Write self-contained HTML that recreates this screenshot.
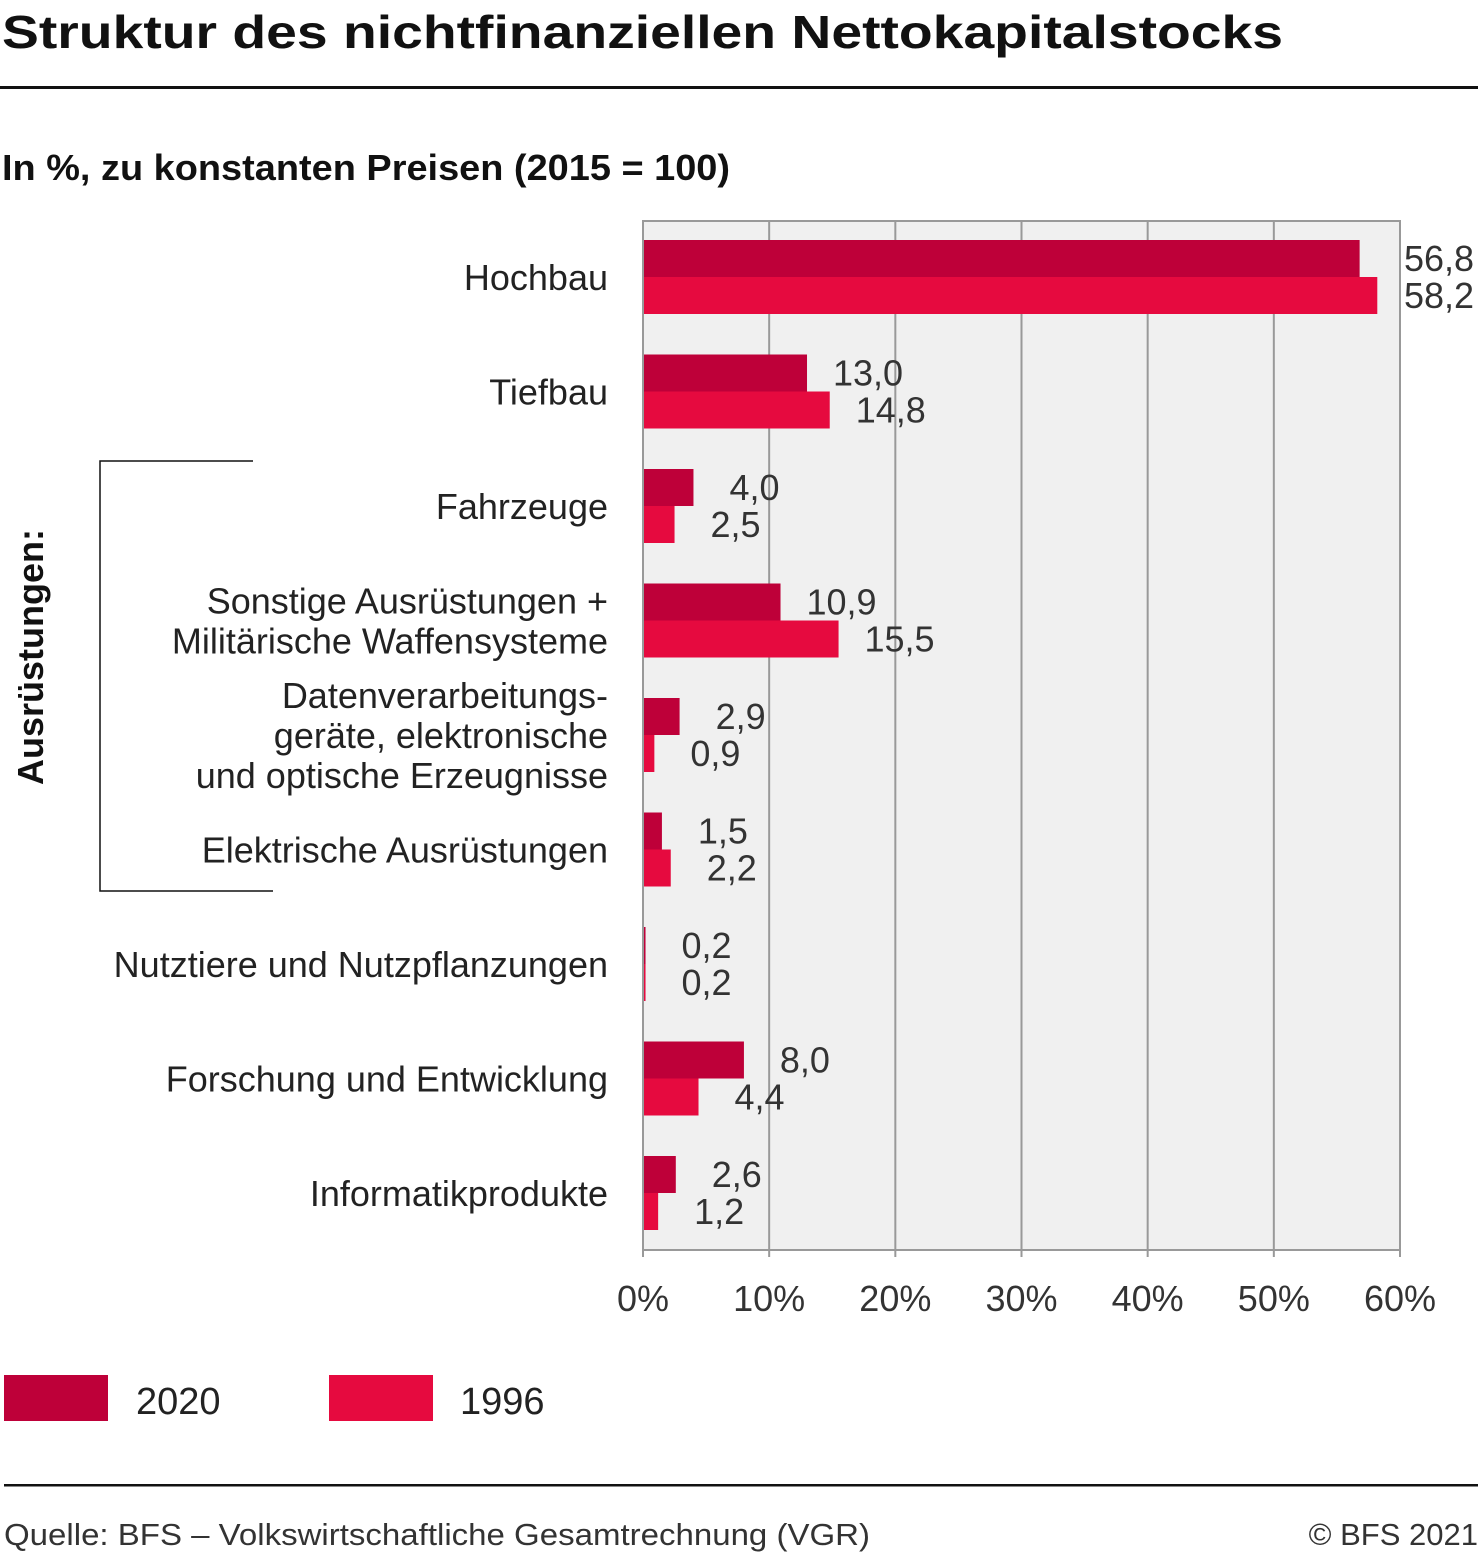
<!DOCTYPE html>
<html><head><meta charset="utf-8">
<style>
html,body{margin:0;padding:0;background:#fff;}
svg{display:block;font-family:"Liberation Sans",sans-serif;}
</style></head>
<body>
<svg id="chart" width="1481" height="1554" viewBox="0 0 1481 1554">
<text x="2" y="48" font-size="46" font-weight="bold" fill="#111" textLength="1281" lengthAdjust="spacingAndGlyphs">Struktur des nichtfinanziellen Nettokapitalstocks</text>
<rect x="0" y="86" width="1478" height="3" fill="#111"/>
<text x="2" y="180" font-size="36" font-weight="bold" fill="#111" textLength="728" lengthAdjust="spacingAndGlyphs">In %, zu konstanten Preisen (2015 = 100)</text>
<rect x="643" y="220" width="757" height="1030" fill="#f0f0f0"/>
<g id="grid"></g>
<g id="bars"></g>
<g id="labels"></g>
<path d="M253 461 H100 V891 H273" fill="none" stroke="#111" stroke-width="1.5"/>
<text transform="translate(43,657) rotate(-90)" text-anchor="middle" font-size="36" font-weight="bold" fill="#111">Ausrüstungen:</text>
<rect x="4" y="1375" width="104" height="46" fill="#be0039"/>
<text x="136" y="1414" font-size="38" fill="#222">2020</text>
<rect x="329" y="1375" width="104" height="46" fill="#e60a3f"/>
<text x="460" y="1414" font-size="38" fill="#222">1996</text>
<rect x="4" y="1484" width="1474" height="2.5" fill="#111"/>
<text x="4" y="1545" font-size="31" fill="#333" textLength="866" lengthAdjust="spacingAndGlyphs">Quelle: BFS – Volkswirtschaftliche Gesamtrechnung (VGR)</text>
<text x="1478" y="1545" font-size="31" fill="#333" text-anchor="end">© BFS 2021</text>
</svg>
<script>
const categories = [["Hochbau"],["Tiefbau"],["Fahrzeuge"],["Sonstige Ausrüstungen +","Militärische Waffensysteme"],["Datenverarbeitungs-","geräte, elektronische","und optische Erzeugnisse"],["Elektrische Ausrüstungen"],["Nutztiere und Nutzpflanzungen"],["Forschung und Entwicklung"],["Informatikprodukte"]];
const values2020 = [56.8,13.0,4.0,10.9,2.9,1.5,0.2,8.0,2.6];
const values1996 = [58.2,14.8,2.5,15.5,0.9,2.2,0.2,4.4,1.2];
const ticks = [0,10,20,30,40,50,60];
const tickLabels = ["0%","10%","20%","30%","40%","50%","60%"];
{
const NS="http://www.w3.org/2000/svg";
const x0=643, x1=1400, xMax=60, yTop=240, band=114.5, bh=37;
const xs=v=>x0+(v/xMax)*(x1-x0);
const fmt=v=>v.toFixed(1).replace('.',',');
function mk(tag,attrs,parent){const e=document.createElementNS(NS,tag);for(const k in attrs)e.setAttribute(k,attrs[k]);parent.appendChild(e);return e;}
const gGrid=document.getElementById('grid'),gBars=document.getElementById('bars'),gLabels=document.getElementById('labels');

ticks.forEach((t,i)=>{
  const x=xs(t);
  if(t>0){const l=mk('line',{x1:x,x2:x,y1:220,y2:1250,stroke:'#999','stroke-width':2},gGrid);
  
  }
  const tk=mk('line',{x1:x,x2:x,y1:1250,y2:1257,stroke:'#999','stroke-width':2},gGrid);
  
  
  const tx=mk('text',{x:x,y:1311,'font-size':36,'text-anchor':'middle',fill:'#333'},gGrid);
  tx.textContent=tickLabels[i];
  
  
});
const topBorder=mk('line',{x1:x0,x2:x1,y1:221,y2:221,stroke:'#999','stroke-width':2},gGrid);


const xAxis=mk('line',{x1:x0,x2:x1,y1:1250,y2:1250,stroke:'#999','stroke-width':2},gGrid);



categories.forEach((c,i)=>{
  const y=yTop+i*band;
  [[values2020,'#be0039',0,'2020'],[values1996,'#e60a3f',bh,'1996']].forEach(([arr,col,off,yr])=>{
    const v=arr[i];
    const r=mk('rect',{x:x0,y:y+off,width:Math.max(xs(v)-x0,2),height:bh,fill:col},gBars);
    
    
    const lx=v>50?1439:xs(v)+61;
    const t=mk('text',{x:lx,y:y+off+31,'font-size':36,'text-anchor':'middle',fill:'#333'},gLabels);
    t.textContent=fmt(v);
    
    
  });
  const cy=y+bh;
  const n=c.length, lh=40;
  c.forEach((line,j)=>{
    const t=mk('text',{x:608,y:cy+13+(j-(n-1)/2)*lh,'font-size':36,'text-anchor':'end',fill:'#222'},gLabels);
    t.textContent=line;
    
    
  });
});
const yAxis=mk('line',{x1:x0,x2:x0,y1:220,y2:1257,stroke:'#999','stroke-width':2},gLabels);


}
</script>
</body></html>
